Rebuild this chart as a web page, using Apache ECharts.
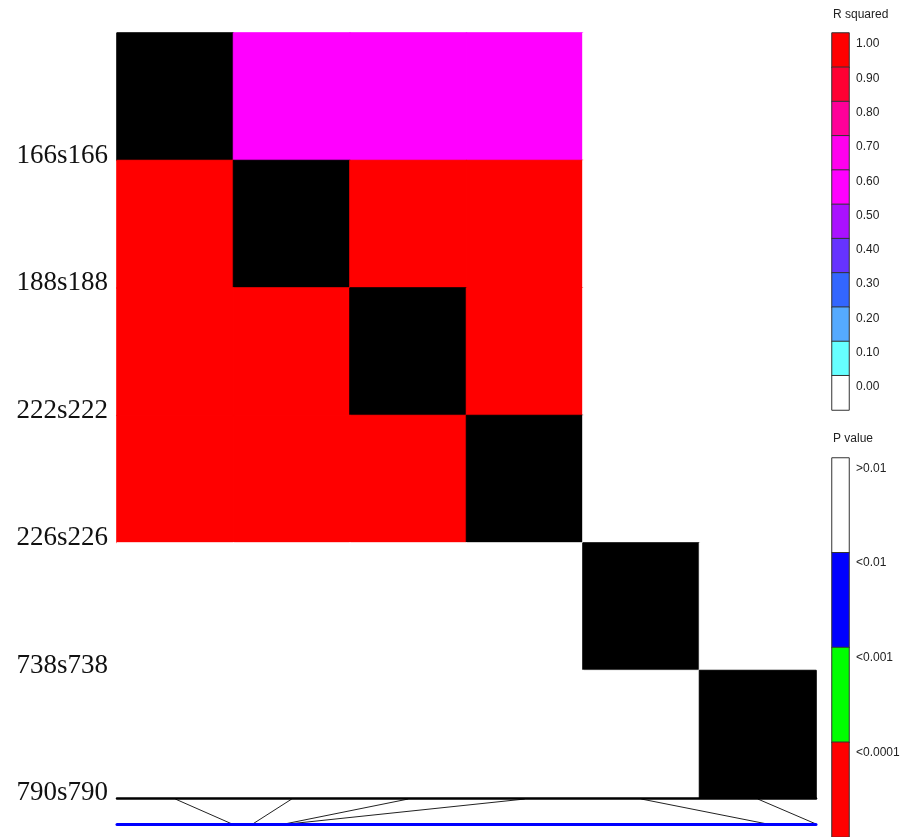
<!DOCTYPE html>
<html>
<head>
<meta charset="utf-8">
<script src="https://cdn.jsdelivr.net/npm/echarts@6/dist/echarts.min.js"></script>
<style>
  html, body { margin: 0; padding: 0; background: #ffffff; }
  #chart { width: 911px; height: 837px; }
</style>
</head>
<body>
<div id="chart"></div>
<script>
// Markers and their physical positions along the region
const snpNames = ['166s166', '188s188', '222s222', '226s226', '738s738', '790s790'];
const snpPositions = [166, 188, 222, 226, 738, 790];
const trackRange = [43, 790];

// Pairwise R squared (upper triangle, row i / column j > i)
const rSquaredRows = [
  [null, 0.68, 0.68, 0.68, 0.02, 0.01],
  [null, null, 1.00, 1.00, 0.02, 0.01],
  [null, null, null, 1.00, 0.03, 0.02],
  [null, null, null, null, 0.01, 0.02],
  [null, null, null, null, null, 0.04],
  [null, null, null, null, null, null]
];

// Pairwise P values (lower triangle, row i / column j < i)
const pValueRows = [
  [],
  [0.00001],
  [0.00001, 0.00001],
  [0.00001, 0.00001, 0.00001],
  [0.40, 0.50, 0.45, 0.60],
  [0.70, 0.50, 0.60, 0.55, 0.30]
];

// Colour keys
const r2LegendLabels = ['1.00', '0.90', '0.80', '0.70', '0.60', '0.50', '0.40', '0.30', '0.20', '0.10', '0.00'];
const r2LegendColors = ['#ff0000', '#ff0033', '#ff0099', '#ff00ee', '#ff00ff', '#aa11ff', '#6633ff', '#3366ff', '#55aaff', '#66ffff', '#ffffff'];
const pLegendLabels = ['>0.01', '<0.01', '<0.001', '<0.0001'];
const pLegendColors = ['#ffffff', '#0000ff', '#00ff00', '#ff0000'];
const pCutoffs = [0.01, 0.001, 0.0001];

function r2Color(v) {
  for (let k = 0; k < r2LegendLabels.length; k++) {
    if (v >= parseFloat(r2LegendLabels[k])) return r2LegendColors[k];
  }
  return r2LegendColors[r2LegendColors.length - 1];
}
function pColor(v) {
  for (let k = 0; k < pCutoffs.length; k++) {
    if (v >= pCutoffs[k]) return pLegendColors[k];
  }
  return pLegendColors[pLegendColors.length - 1];
}

// Solid cell style; a same-coloured edge hides seams between neighbouring cells
function cellStyle(color) {
  return { color: color, borderColor: color, borderWidth: 1 };
}

// Matrix cells: [column, row, value]
const cells = [];
for (let i = 0; i < snpNames.length; i++) {
  for (let j = 0; j < snpNames.length; j++) {
    if (i === j) {
      cells.push({ value: [j, i, 1], itemStyle: cellStyle('#000000') });
    } else if (j > i) {
      const v = rSquaredRows[i][j];
      cells.push({ value: [j, i, v], itemStyle: cellStyle(r2Color(v)) });
    } else {
      const v = pValueRows[i][j];
      cells.push({ value: [j, i, v], itemStyle: cellStyle(pColor(v)) });
    }
  }
}

// Connectors from each matrix column to its position on the track
const n = snpNames.length;
const connectors = snpPositions.map((pos, i) => ({
  coords: [
    [i + 0.5, 1],
    [(pos - trackRange[0]) / (trackRange[1] - trackRange[0]) * n, 0]
  ]
}));

const r2LegendCells = r2LegendLabels.map((lab, k) => ({ value: [0, k, k], itemStyle: { color: r2LegendColors[k] } }));
const pLegendCells = pLegendLabels.map((lab, k) => ({ value: [0, k, k], itemStyle: { color: pLegendColors[k] } }));

const legendText = { fontFamily: 'Liberation Sans', fontSize: 12, color: '#222222' };

const chart = echarts.init(document.getElementById('chart'), null, { renderer: 'canvas' });
chart.setOption({
  animation: false,
  backgroundColor: '#ffffff',
  title: [
    { text: 'R squared', left: 833, top: 9, padding: 0, textStyle: Object.assign({ fontWeight: 'normal' }, legendText) },
    { text: 'P value', left: 833, top: 433, padding: 0, textStyle: Object.assign({ fontWeight: 'normal' }, legendText) }
  ],
  grid: [
    { left: 117, top: 33, width: 699, height: 765 },
    { left: 117, top: 799, width: 699, height: 25 },
    { left: 832, top: 33, width: 17, height: 377 },
    { left: 832, top: 458, width: 17, height: 384 }
  ],
  xAxis: [
    {
      gridIndex: 0, type: 'category', data: snpNames, position: 'bottom', z: 10,
      axisLine: { show: true, onZero: false, lineStyle: { color: '#000000', width: 2.5 } },
      axisTick: { show: false }, axisLabel: { show: false }, splitLine: { show: false }
    },
    {
      gridIndex: 1, type: 'value', min: 0, max: n, position: 'bottom', z: 10,
      axisLine: { show: true, onZero: false, lineStyle: { color: '#0000ff', width: 3 } },
      axisTick: { show: false }, axisLabel: { show: false }, splitLine: { show: false }
    },
    { gridIndex: 2, type: 'category', data: ['r2'], show: false },
    { gridIndex: 3, type: 'category', data: ['p'], show: false }
  ],
  yAxis: [
    { gridIndex: 0, type: 'category', data: snpNames, inverse: true, show: false },
    {
      gridIndex: 0, type: 'value', min: 0, max: n, interval: 1, inverse: true, position: 'left',
      axisLine: { show: false }, axisTick: { show: false }, splitLine: { show: false },
      axisLabel: {
        margin: 9,
        fontFamily: 'Liberation Serif', fontSize: 27, color: '#111111',
        verticalAlign: 'bottom', lineHeight: 10,
        formatter: v => (v >= 1 ? snpNames[v - 1] : '')
      }
    },
    { gridIndex: 1, type: 'value', min: 0, max: 1, show: false },
    {
      gridIndex: 2, type: 'category', data: r2LegendLabels, inverse: true, position: 'right',
      axisLine: { show: false }, axisTick: { show: false }, splitLine: { show: false },
      axisLabel: Object.assign({ margin: 7, verticalAlign: 'bottom', lineHeight: 12, align: 'left' }, legendText)
    },
    {
      gridIndex: 3, type: 'category', data: pLegendLabels, inverse: true, position: 'right',
      axisLine: { show: false }, axisTick: { show: false }, splitLine: { show: false },
      axisLabel: Object.assign({ margin: 7, verticalAlign: 'bottom', lineHeight: 74, align: 'left' }, legendText)
    }
  ],
  series: [
    {
      type: 'heatmap', xAxisIndex: 0, yAxisIndex: 0, data: cells,
      emphasis: { disabled: true }, silent: true
    },
    {
      type: 'lines', coordinateSystem: 'cartesian2d', xAxisIndex: 1, yAxisIndex: 2,
      data: connectors, silent: true,
      lineStyle: { color: '#222222', width: 1, opacity: 1, curveness: 0 }
    },
    {
      type: 'heatmap', xAxisIndex: 2, yAxisIndex: 3, data: r2LegendCells, silent: true,
      itemStyle: { borderColor: '#333333', borderWidth: 1 }, emphasis: { disabled: true }
    },
    {
      type: 'heatmap', xAxisIndex: 3, yAxisIndex: 4, data: pLegendCells, silent: true,
      itemStyle: { borderColor: '#333333', borderWidth: 1 }, emphasis: { disabled: true }
    }
  ]
});
</script>
</body>
</html>
